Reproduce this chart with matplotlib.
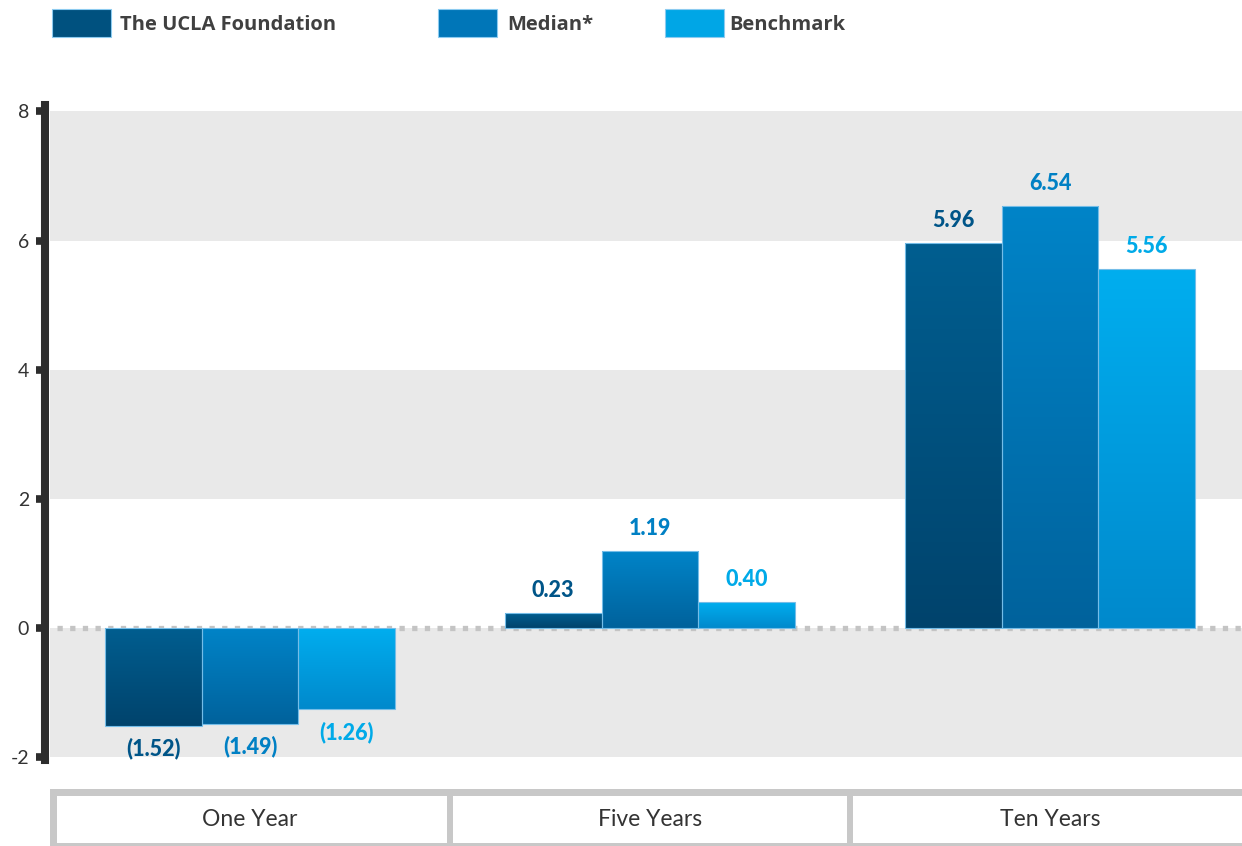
import matplotlib
matplotlib.use('Agg')
import matplotlib.pyplot as plt
import numpy as np
from matplotlib.colors import LinearSegmentedColormap
from matplotlib.patches import Rectangle

periodos = ["One Year", "Five Years", "Ten Years"]
series = ["The UCLA Foundation", "Median*", "Benchmark"]
ucla = [-1.52, 0.23, 5.96]
mediana = [-1.49, 1.19, 6.54]
benchmark = [-1.26, 0.40, 5.56]
y_ticks = [-2, 0, 2, 4, 6, 8]

# (arriba, abajo) del degradado de cada serie, color de la etiqueta
GRADIENTES = [("#005e90", "#00436c"), ("#0084c8", "#00629c"), ("#00aeef", "#0089cc")]
COLOR_LEYENDA = ["#00517f", "#0076b8", "#00a6e6"]
COLOR_ETIQUETA = ["#005588", "#0080c4", "#00aae8"]
GRIS_BANDA = "#e9e9e9"
GRIS_MARCO = "#c8c8c8"
OSCURO = "#2d2d2d"

W, H = 1242, 846
fig = plt.figure(figsize=(W / 100, H / 100), dpi=100)
fig.patch.set_facecolor("white")

ax = fig.add_axes([50 / W, (H - 760) / H, 1192 / W, 655 / H])
ax.set_facecolor("white")

for lo, hi in [(6, 8), (2, 4), (-2, 0)]:
    ax.axhspan(lo, hi, color=GRIS_BANDA, lw=0, zorder=0)
ax.axhline(0, xmin=0.006, xmax=1, color="#c4c4c4", lw=3.8,
           linestyle=(0, (1.0, 1.4)), zorder=1)

x = np.arange(len(periodos))
ancho = 0.242
valores = [ucla, mediana, benchmark]
grad = np.linspace(0, 1, 256).reshape(-1, 1)

for k, vals in enumerate(valores):
    pos = x + (k - 1) * ancho
    barras = ax.bar(pos, vals, width=ancho, facecolor="none",
                    edgecolor="#74bde8", linewidth=0.8, zorder=3)
    arriba, abajo = GRADIENTES[k]
    cmap = LinearSegmentedColormap.from_list(f"g{k}", [abajo, arriba])
    for p, v in zip(barras.patches, vals):
        x0 = p.get_x()
        y0, y1 = sorted([0, v])
        im = ax.imshow(grad, extent=(x0, x0 + ancho, y0, y1), origin="lower",
                       cmap=cmap, aspect="auto", zorder=2, interpolation="bilinear")
        im.set_clip_path(p)
        if v >= 0:
            texto, dy = f"{v:.2f}", 11.5
        else:
            texto, dy = f"({abs(v):.2f})", -21.5
        ax.annotate(texto, xy=(x0 + ancho / 2, v), xytext=(0, dy),
                    textcoords="offset points", ha="center", va="baseline",
                    fontsize=15.5, fontweight="black", family="Lato",
                    color=COLOR_ETIQUETA[k], zorder=4)

ax.set_xlim(-0.5, 2.48)
ax.set_ylim(-2.05, 8.1)
ax.set_yticks(y_ticks)
ax.set_xticks([])
for s in ["top", "right", "bottom"]:
    ax.spines[s].set_visible(False)
ax.spines["left"].set_position(("outward", 3.6))
ax.spines["left"].set_linewidth(5.8)
ax.spines["left"].set_color(OSCURO)
ax.tick_params(axis="y", length=6.5, width=5.5, color=OSCURO, pad=5,
               labelsize=14, labelcolor="#333333")
ax.set_yticklabels([str(t) for t in y_ticks])
for lab in ax.get_yticklabels():
    lab.set_fontfamily("Lato")
    lab.set_fontsize(14)

# Cajas de categorias bajo el grafico
axb = fig.add_axes([50 / W, 0, 1192 / W, 57 / H], sharex=ax)
axb.set_ylim(0, 1)
axb.set_facecolor(GRIS_MARCO)
for s in axb.spines.values():
    s.set_visible(False)
axb.tick_params(left=False, bottom=False, labelleft=False, labelbottom=False)
for i, nombre in enumerate(periodos):
    izq = i - 0.5 + (0.0165 if i == 0 else 0.0075)
    der = i + 0.5 - 0.0075
    axb.add_patch(Rectangle((izq, 0.053), der - izq, 0.824, facecolor="white",
                            edgecolor="none"))
    axb.text(i, 0.47, nombre, ha="center", va="center", family="Lato",
             fontsize=16.5, color="#333333")
axb.set_xlim(-0.5, 2.48)

# Leyenda superior
legend_x = [(52, 120), (438, 507), (665, 729)]
for (sx, tx), nombre, color in zip(legend_x, series, COLOR_LEYENDA):
    fig.patches.append(Rectangle((sx / W, (H - 37) / H), 59 / W, 28 / H,
                                 transform=fig.transFigure, facecolor=color,
                                 edgecolor="#8ccbf0", linewidth=0.8))
    fig.text(tx / W, (H - 25) / H, nombre, ha="left", va="center",
             family="Open Sans", fontweight="bold", fontsize=14.5, color="#404040")

fig.savefig("out.png", dpi=100, facecolor="white")
